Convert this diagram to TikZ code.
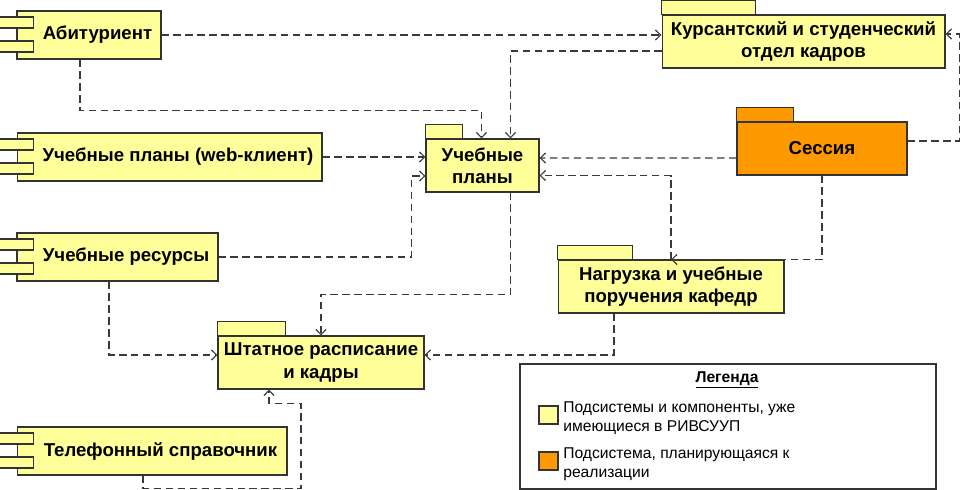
\documentclass[tikz,border=0pt]{standalone}
\usepackage{fontspec}
\setmainfont{Liberation Sans}
\usetikzlibrary{calc,arrows.meta}
\definecolor{subsys}{HTML}{FFFF99}
\definecolor{planned}{HTML}{FF9900}
\definecolor{linegray}{HTML}{3A3A3A}

\begin{document}
\begin{tikzpicture}[x=0.02cm,y=-0.02cm,
    box/.style={draw=black!80, fill=subsys, line width=0.6pt, minimum height=0.96cm,
      inner sep=0pt, font=\fontsize{10.6}{12.6}\selectfont\bfseries},
    comp/.style={box, execute at begin node={\hspace*{0.34cm}}},
    pkg/.style={box, minimum height=1.06cm, align=center},
    plug/.style={draw=black!80, fill=subsys, line width=0.6pt},
    dep/.style={draw=linegray, line width=0.65pt, dash pattern=on 4.2pt off 2.6pt,
      -{Straight Barb[length=3pt,width=5.8pt]}},
    swatch/.style={draw=black!80, line width=0.6pt, minimum width=0.38cm, minimum height=0.36cm, inner sep=0pt},
    legtext/.style={anchor=west, align=left, inner sep=0pt, font=\fontsize{8.9}{10.8}\selectfont}]
  \useasboundingbox (0,0) rectangle (960,490);

  % components
  \node[comp, minimum width=2.88cm] (abit) at (89,35) {Абитуриент};
  \node[comp, minimum width=6.10cm] (webplan) at (169.5,157) {Учебные планы (web-клиент)};
  \node[comp, minimum width=4.02cm] (resurs) at (117.5,257) {Учебные ресурсы};
  \node[comp, minimum width=5.40cm] (phone) at (152,451) {Телефонный справочник};
  \foreach \n in {abit,webplan,resurs,phone} {
    \draw[plug] ($(\n.west)+(-17,-18)$) rectangle +(34,11);
    \draw[plug] ($(\n.west)+(-17,6)$) rectangle +(34,11);
  }

  % packages
  \node[pkg, minimum width=2.26cm] (uplan) at (482.5,165.5) {Учебные\\планы};
  \node[pkg, minimum width=5.66cm] (kadry) at (803.5,41.5) {Курсантский и студенческий\\отдел кадров};
  \node[pkg, minimum width=3.40cm, fill=planned] (sess) at (822,148.5) {Сессия};
  \node[pkg, minimum width=4.52cm] (nagr) at (671,286.5) {Нагрузка и учебные\\поручения кафедр};
  \node[pkg, minimum width=4.12cm] (shtat) at (321,362.5) {Штатное расписание\\и кадры};
  \foreach \n/\w/\c in {uplan/37/subsys,kadry/94/subsys,sess/57/planned,nagr/75/subsys,shtat/68/subsys}
    \draw[plug, fill=\c] (\n.north west) rectangle +(\w,-14);

  % dependencies
  \draw[dep] (abit.east) -- (abit.east -| kadry.west);
  \draw[dep] ($(abit.south)+(-9,0)$) -- ++(0,51) -| ($(uplan.north)+(-1,0)$);
  \draw[dep] ($(kadry.west)+(0,9.5)$) -| ($(uplan.north)+(28,0)$);
  \draw[dep] (webplan.east) -- (webplan.east -| uplan.west);
  \draw[dep] (resurs.east) -| ($(uplan.west)+(-14,10.5)$) -- ($(uplan.west)+(0,10.5)$);
  \draw[dep] ($(sess.west)+(0,9.5)$) -- ($(uplan.east)+(0,-7.5)$);
  \draw[dep] (nagr.north) |- ($(uplan.east)+(0,10)$);
  \draw[dep] (sess.south) |- (nagr.north);
  \draw[dep] ($(sess.east)+(0,-7.5)$) -- ++(52,0) |- ($(kadry.east)+(0,-7.5)$);
  \draw[dep] ($(uplan.south)+(28,0)$) -- ++(0,102) -| (shtat.north);
  \draw[dep] ($(resurs.south)+(-8.5,0)$) |- ($(shtat.west)+(0,-7.5)$);
  \draw[dep] ($(nagr.south)+(-57,0)$) |- ($(shtat.east)+(0,-7.5)$);
  \draw[dep] ($(phone.south)+(-9,0)$) -- ++(0,13) -- ++(158,0) |- ($(shtat.south)+(-52,14)$)
    -- ($(shtat.south)+(-52,0)$);

  % legend
  \node[draw=black!80, line width=0.8pt, minimum width=8.32cm, minimum height=2.5cm, inner sep=0pt] (legend) at (728,426.5) {};
  \node[font=\fontsize{8.9}{10.8}\selectfont\bfseries] (legtitle) at (727,380) {\underline{Легенда}};
  \node[swatch, fill=subsys] (sw1) at (548.5,415) {};
  \node[legtext] (lt1) at (563,418) {Подсистемы и компоненты, уже\\имеющиеся в РИВСУУП};
  \node[swatch, fill=planned] (sw2) at (548.5,461) {};
  \node[legtext] (lt2) at (563,464) {Подсистема, планирующаяся к\\реализации};
\end{tikzpicture}
\end{document}
